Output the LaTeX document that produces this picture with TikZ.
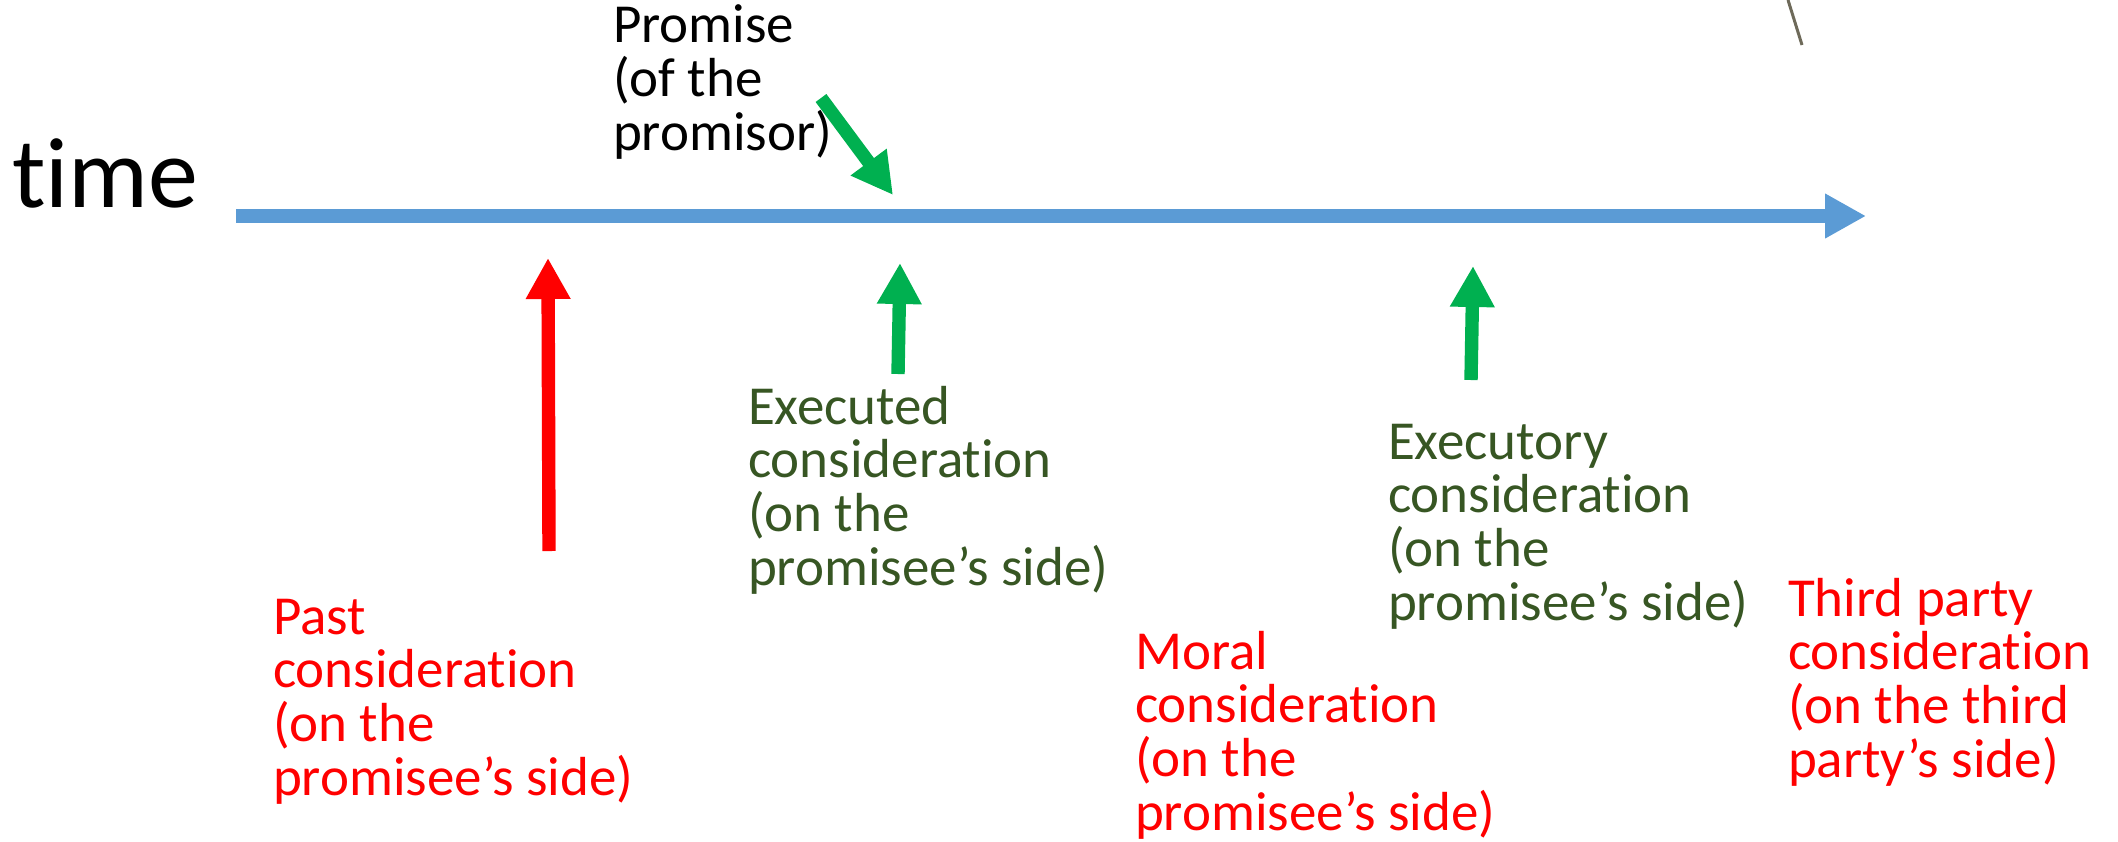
\documentclass[tikz,border=0pt]{standalone}
\usepackage{fontspec}
\setmainfont{Carlito}[Ligatures=NoCommon]
\usetikzlibrary{arrows.meta}
\definecolor{axisblue}{HTML}{5B9BD5}
\definecolor{arrowgreen}{HTML}{00B050}
\definecolor{textgreen}{HTML}{375623}
\definecolor{pinbrown}{HTML}{6E6A5A}
\begin{document}
\begin{tikzpicture}[x=0.5pt, y=-0.5pt,
  every node/.style = {inner sep=0pt, outer sep=0pt, align=left, anchor=base west,
    font=\fontsize{27.5pt}{26.8pt}\selectfont},
  fatarrow/.style = {line width=6.7pt, -{Triangle[width=21pt, length=20.5pt]}},
  badtext/.style = {text=red},
  goodtext/.style = {text=textgreen}]
  \useasboundingbox (0,0) rectangle (2118,841);
  % time axis
  \node[font=\fontsize{50pt}{50pt}\selectfont] (time) at (12,207) {time};
  \coordinate (axstart) at (236,216);
  \coordinate (axend) at (1866,216);
  \draw[fatarrow, axisblue] (axstart) -- (axend);
  % promise (anchors sit on the last line)
  \node (promise) at (613,150) {Promise\\(of the\\promisor)};
  \coordinate (promtail) at (821,98);
  \coordinate (promtip) at (893,195);
  \draw[fatarrow, arrowgreen] (promtail) -- (promtip);
  % considerations
  \node[badtext] (past) at (273,795) {Past\\consideration\\(on the\\promisee’s side)};
  \coordinate (pasttail) at (549,551);
  \coordinate (pasttip) at (548,258);
  \draw[fatarrow, red] (pasttail) -- (pasttip);
  \node[goodtext] (executed) at (748,585) {Executed\\consideration\\(on the\\promisee’s side)};
  \coordinate (exdtail) at (898,374);
  \coordinate (exdtip) at (900,263);
  \draw[fatarrow, arrowgreen] (exdtail) -- (exdtip);
  \node[goodtext] (executory) at (1388,620) {Executory\\consideration\\(on the\\promisee’s side)};
  \coordinate (exytail) at (1471,380);
  \coordinate (exytip) at (1473,266);
  \draw[fatarrow, arrowgreen] (exytail) -- (exytip);
  \node[badtext] (moral) at (1135,830) {Moral\\consideration\\(on the\\promisee’s side)};
  \node[badtext] (third) at (1788,777) {Third party\\consideration\\(on the third\\party’s side)};
  % pin at the top
  \draw[pinbrown, line width=1.5pt] (1788,0) -- (1802,45);
\end{tikzpicture}
\end{document}
